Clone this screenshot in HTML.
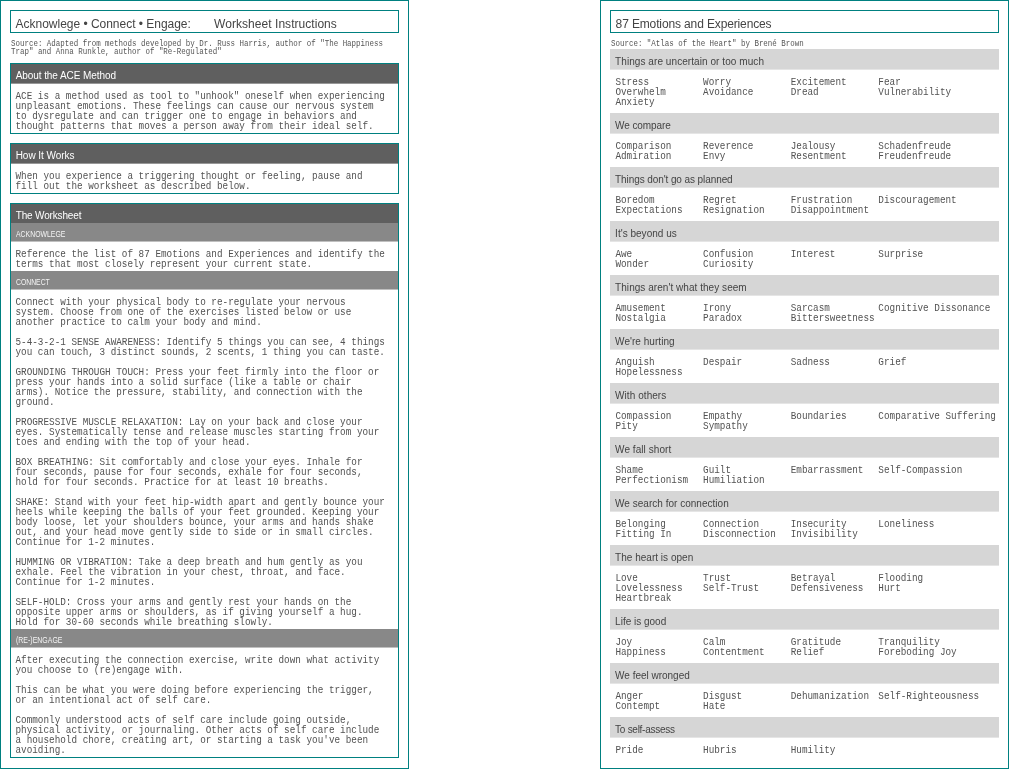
<!DOCTYPE html>
<html lang="en"><head><meta charset="utf-8"><title>ACE Worksheet</title>
<style>
html,body{margin:0;padding:0}
body{width:1009px;height:769px;background:#fff;position:relative;overflow:hidden;font-family:"Liberation Sans", "DejaVu Sans", sans-serif;color:#444}
.panel{position:absolute;top:0;width:409px;height:769px;box-sizing:border-box;box-shadow:inset 0 0 0 1px #008080}
.title{position:absolute;left:10px;top:10px;width:389px;height:23px;box-sizing:border-box;border:1px solid #008080;font-size:12px;line-height:14px;padding:6px 0 0 4.6px;white-space:pre;color:#444;overflow:hidden}
.title span{display:inline-block}
.m{position:absolute;font-family:"Liberation Mono", "DejaVu Sans Mono", monospace;font-size:9.6px;line-height:9px;white-space:pre;color:#525252;margin:0;transform:scale(0.9721,1.11111);transform-origin:0 0}
.src{position:absolute;left:10.7px;font-family:"Liberation Mono", "DejaVu Sans Mono", monospace;font-size:8px;line-height:7px;white-space:pre;color:#555;margin:0;transform:scale(0.9335,1.14286);transform-origin:0 0}
.box{position:absolute;left:10px;width:389px;box-sizing:border-box;border:1px solid #008080;overflow:hidden}
.hd{background:#5f5f5f;color:#fff;font-size:10px;line-height:12px;height:20px;padding:6px 0 0 4.7px;box-sizing:border-box;white-space:pre;overflow:hidden;border-bottom:1px solid #979797}
.sub{background:#888;color:#f4f4f4;font-size:8.6px;line-height:10px;height:19px;padding:6px 0 0 4.7px;box-sizing:border-box;white-space:pre;overflow:hidden;border-bottom:1px solid #c0c0c0}
.sub span{display:inline-block;transform-origin:0 50%}
.bd{position:relative}
.bar{position:absolute;left:10px;width:389px;height:21px;border-bottom:1px solid #e5e5e5;background:#d6d6d6;color:#444;font-size:10px;line-height:12px;padding:7px 0 0 5.1px;box-sizing:border-box;white-space:pre;overflow:hidden}
.col{position:absolute}
</style></head>
<body>
<div class="panel" style="left:0">
<div class="title"><span style="letter-spacing:-0.021px">Acknowlege • Connect • Engage:</span><span style="margin-left:23.3px;letter-spacing:0.043px">Worksheet Instructions</span></div>
<pre class="src" style="top:39px">Source: Adapted from methods developed by Dr. Russ Harris, author of "The Happiness
Trap" and Anna Runkle, author of "Re-Regulated"</pre>
<div class="box" style="top:63px;height:71px"><div class="hd" style="letter-spacing:-0.074px">About the ACE Method</div><div class="bd"><pre class="m" style="left:4px;top:5px;padding:2px 0 0 0.51px;">ACE is a method used as tool to "unhook" oneself when experiencing
unpleasant emotions. These feelings can cause our nervous system
to dysregulate and can trigger one to engage in behaviors and
thought patterns that moves a person away from their ideal self.</pre></div></div>
<div class="box" style="top:143px;height:51px"><div class="hd" style="letter-spacing:-0.045px">How It Works</div><div class="bd"><pre class="m" style="left:4px;top:5px;padding:2px 0 0 0.51px;">When you experience a triggering thought or feeling, pause and
fill out the worksheet as described below.</pre></div></div>
<div class="box" style="top:203px;height:555px"><div class="hd" style="height:19px;border-bottom:0;padding-top:6px;letter-spacing:-0.158px">The Worksheet</div><div class="sub"><span style="transform:scaleX(0.802)">ACKNOWLEGE</span></div><div class="bd" style="height:29px"><pre class="m" style="left:4px;top:5px;padding:2px 0 0 0.51px;">Reference the list of 87 Emotions and Experiences and identify the
terms that most closely represent your current state.</pre></div><div class="sub"><span style="transform:scaleX(0.795)">CONNECT</span></div><div class="bd" style="height:339px"><pre class="m" style="left:4px;top:5px;padding:2px 0 0 0.51px;">Connect with your physical body to re-regulate your nervous
system. Choose from one of the exercises listed below or use
another practice to calm your body and mind.

5-4-3-2-1 SENSE AWARENESS: Identify 5 things you can see, 4 things
you can touch, 3 distinct sounds, 2 scents, 1 thing you can taste.

GROUNDING THROUGH TOUCH: Press your feet firmly into the floor or
press your hands into a solid surface (like a table or chair
arms). Notice the pressure, stability, and connection with the
ground.

PROGRESSIVE MUSCLE RELAXATION: Lay on your back and close your
eyes. Systematically tense and release muscles starting from your
toes and ending with the top of your head.

BOX BREATHING: Sit comfortably and close your eyes. Inhale for
four seconds, pause for four seconds, exhale for four seconds,
hold for four seconds. Practice for at least 10 breaths.

SHAKE: Stand with your feet hip-width apart and gently bounce your
heels while keeping the balls of your feet grounded. Keeping your
body loose, let your shoulders bounce, your arms and hands shake
out, and your head move gently side to side or in small circles.
Continue for 1-2 minutes.

HUMMING OR VIBRATION: Take a deep breath and hum gently as you
exhale. Feel the vibration in your chest, throat, and face.
Continue for 1-2 minutes.

SELF-HOLD: Cross your arms and gently rest your hands on the
opposite upper arms or shoulders, as if giving yourself a hug.
Hold for 30-60 seconds while breathing slowly.</pre></div><div class="sub"><span style="transform:scaleX(0.811)">(RE-)ENGAGE</span></div><div class="bd"><pre class="m" style="left:4px;top:5px;padding:2px 0 0 0.51px;">After executing the connection exercise, write down what activity
you choose to (re)engage with.

This can be what you were doing before experiencing the trigger,
or an intentional act of self care.

Commonly understood acts of self care include going outside,
physical activity, or journaling. Other acts of self care include
a household chore, creating art, or starting a task you've been
avoiding.</pre></div></div>
</div>
<div class="panel" style="left:600px">
<div class="title" style="letter-spacing:-0.131px">87 Emotions and Experiences</div>
<pre class="src" style="top:39px">Source: "Atlas of the Heart" by Brené Brown</pre>
<div class="bar" style="top:49px;letter-spacing:0.068px">Things are uncertain or too much</div>
<pre class="m" style="left:15px;top:75px;padding:2px 0 0 0.41px;">Stress
Overwhelm
Anxiety</pre>
<pre class="m" style="left:103px;top:75px;padding:2px 0 0 0.05px;">Worry
Avoidance</pre>
<pre class="m" style="left:190px;top:75px;padding:2px 0 0 0.72px;">Excitement
Dread</pre>
<pre class="m" style="left:278px;top:75px;padding:2px 0 0 0.36px;">Fear
Vulnerability</pre>
<div class="bar" style="top:113px;letter-spacing:-0.100px">We compare</div>
<pre class="m" style="left:15px;top:139px;padding:2px 0 0 0.41px;">Comparison
Admiration</pre>
<pre class="m" style="left:103px;top:139px;padding:2px 0 0 0.05px;">Reverence
Envy</pre>
<pre class="m" style="left:190px;top:139px;padding:2px 0 0 0.72px;">Jealousy
Resentment</pre>
<pre class="m" style="left:278px;top:139px;padding:2px 0 0 0.36px;">Schadenfreude
Freudenfreude</pre>
<div class="bar" style="top:167px;letter-spacing:-0.088px">Things don't go as planned</div>
<pre class="m" style="left:15px;top:193px;padding:2px 0 0 0.41px;">Boredom
Expectations</pre>
<pre class="m" style="left:103px;top:193px;padding:2px 0 0 0.05px;">Regret
Resignation</pre>
<pre class="m" style="left:190px;top:193px;padding:2px 0 0 0.72px;">Frustration
Disappointment</pre>
<pre class="m" style="left:278px;top:193px;padding:2px 0 0 0.36px;">Discouragement</pre>
<div class="bar" style="top:221px;letter-spacing:0.023px">It's beyond us</div>
<pre class="m" style="left:15px;top:247px;padding:2px 0 0 0.41px;">Awe
Wonder</pre>
<pre class="m" style="left:103px;top:247px;padding:2px 0 0 0.05px;">Confusion
Curiosity</pre>
<pre class="m" style="left:190px;top:247px;padding:2px 0 0 0.72px;">Interest</pre>
<pre class="m" style="left:278px;top:247px;padding:2px 0 0 0.36px;">Surprise</pre>
<div class="bar" style="top:275px;letter-spacing:0.048px">Things aren't what they seem</div>
<pre class="m" style="left:15px;top:301px;padding:2px 0 0 0.41px;">Amusement
Nostalgia</pre>
<pre class="m" style="left:103px;top:301px;padding:2px 0 0 0.05px;">Irony
Paradox</pre>
<pre class="m" style="left:190px;top:301px;padding:2px 0 0 0.72px;">Sarcasm
Bittersweetness</pre>
<pre class="m" style="left:278px;top:301px;padding:2px 0 0 0.36px;">Cognitive Dissonance</pre>
<div class="bar" style="top:329px;letter-spacing:0.042px">We're hurting</div>
<pre class="m" style="left:15px;top:355px;padding:2px 0 0 0.41px;">Anguish
Hopelessness</pre>
<pre class="m" style="left:103px;top:355px;padding:2px 0 0 0.05px;">Despair</pre>
<pre class="m" style="left:190px;top:355px;padding:2px 0 0 0.72px;">Sadness</pre>
<pre class="m" style="left:278px;top:355px;padding:2px 0 0 0.36px;">Grief</pre>
<div class="bar" style="top:383px;letter-spacing:0.060px">With others</div>
<pre class="m" style="left:15px;top:409px;padding:2px 0 0 0.41px;">Compassion
Pity</pre>
<pre class="m" style="left:103px;top:409px;padding:2px 0 0 0.05px;">Empathy
Sympathy</pre>
<pre class="m" style="left:190px;top:409px;padding:2px 0 0 0.72px;">Boundaries</pre>
<pre class="m" style="left:278px;top:409px;padding:2px 0 0 0.36px;">Comparative Suffering</pre>
<div class="bar" style="top:437px;letter-spacing:0.058px">We fall short</div>
<pre class="m" style="left:15px;top:463px;padding:2px 0 0 0.41px;">Shame
Perfectionism</pre>
<pre class="m" style="left:103px;top:463px;padding:2px 0 0 0.05px;">Guilt
Humiliation</pre>
<pre class="m" style="left:190px;top:463px;padding:2px 0 0 0.72px;">Embarrassment</pre>
<pre class="m" style="left:278px;top:463px;padding:2px 0 0 0.36px;">Self-Compassion</pre>
<div class="bar" style="top:491px;letter-spacing:0.017px">We search for connection</div>
<pre class="m" style="left:15px;top:517px;padding:2px 0 0 0.41px;">Belonging
Fitting In</pre>
<pre class="m" style="left:103px;top:517px;padding:2px 0 0 0.05px;">Connection
Disconnection</pre>
<pre class="m" style="left:190px;top:517px;padding:2px 0 0 0.72px;">Insecurity
Invisibility</pre>
<pre class="m" style="left:278px;top:517px;padding:2px 0 0 0.36px;">Loneliness</pre>
<div class="bar" style="top:545px;letter-spacing:0.019px">The heart is open</div>
<pre class="m" style="left:15px;top:571px;padding:2px 0 0 0.41px;">Love
Lovelessness
Heartbreak</pre>
<pre class="m" style="left:103px;top:571px;padding:2px 0 0 0.05px;">Trust
Self-Trust</pre>
<pre class="m" style="left:190px;top:571px;padding:2px 0 0 0.72px;">Betrayal
Defensiveness</pre>
<pre class="m" style="left:278px;top:571px;padding:2px 0 0 0.36px;">Flooding
Hurt</pre>
<div class="bar" style="top:609px;letter-spacing:0.000px">Life is good</div>
<pre class="m" style="left:15px;top:635px;padding:2px 0 0 0.41px;">Joy
Happiness</pre>
<pre class="m" style="left:103px;top:635px;padding:2px 0 0 0.05px;">Calm
Contentment</pre>
<pre class="m" style="left:190px;top:635px;padding:2px 0 0 0.72px;">Gratitude
Relief</pre>
<pre class="m" style="left:278px;top:635px;padding:2px 0 0 0.36px;">Tranquility
Foreboding Joy</pre>
<div class="bar" style="top:663px;letter-spacing:-0.014px">We feel wronged</div>
<pre class="m" style="left:15px;top:689px;padding:2px 0 0 0.41px;">Anger
Contempt</pre>
<pre class="m" style="left:103px;top:689px;padding:2px 0 0 0.05px;">Disgust
Hate</pre>
<pre class="m" style="left:190px;top:689px;padding:2px 0 0 0.72px;">Dehumanization</pre>
<pre class="m" style="left:278px;top:689px;padding:2px 0 0 0.36px;">Self-Righteousness</pre>
<div class="bar" style="top:717px;letter-spacing:-0.269px">To self-assess</div>
<pre class="m" style="left:15px;top:743px;padding:2px 0 0 0.41px;">Pride</pre>
<pre class="m" style="left:103px;top:743px;padding:2px 0 0 0.05px;">Hubris</pre>
<pre class="m" style="left:190px;top:743px;padding:2px 0 0 0.72px;">Humility</pre>
</div>
</body></html>
